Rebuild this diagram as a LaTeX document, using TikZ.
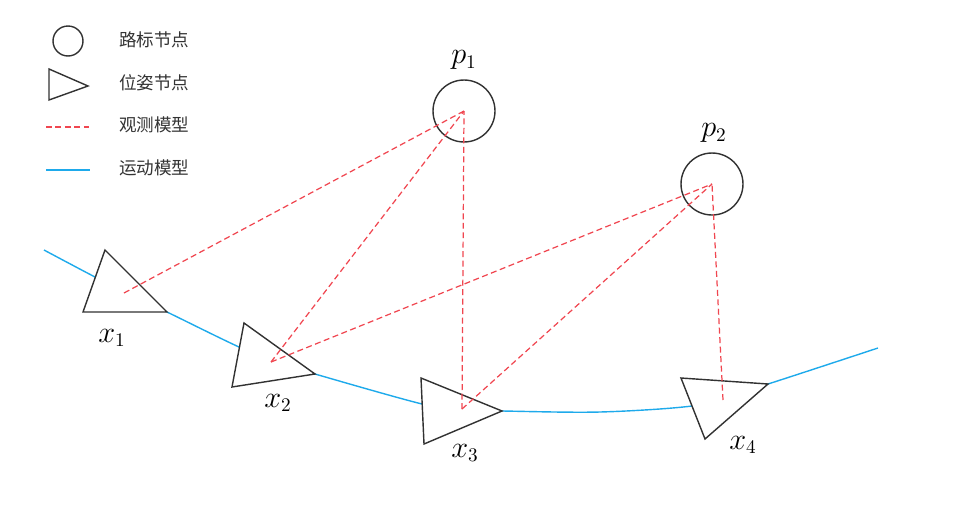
\documentclass[tikz,border=0pt]{standalone}
\usepackage{fontspec}
\newfontfamily\cjk{Noto Sans CJK SC}
\usepackage{xcolor}
\usepackage{tikz}
\usetikzlibrary{arrows.meta, positioning}
\definecolor{obsred}{RGB}{240,70,80}
\definecolor{motblue}{RGB}{30,170,235}
\definecolor{edgegray}{RGB}{50,50,50}

\begin{document}
\begin{tikzpicture}[
  x=0.02cm, y=-0.02cm,
  landmark/.style={circle, draw=edgegray, line width=0.8pt,
                   minimum size=1.24cm, inner sep=0pt},
  pose/.style={draw=edgegray, line width=0.8pt, fill=white},
  obs/.style={draw=obsred, dash pattern=on 3.4pt off 2pt, line width=0.7pt},
  motion/.style={draw=motblue, line width=0.8pt},
  legtext/.style={font=\cjk\fontsize{10pt}{12pt}\selectfont,
                  text=black!80, anchor=west},
  lbl/.style={font=\fontsize{16pt}{18pt}\selectfont}
]
\useasboundingbox (0,0) rectangle (974,514);

%% ── LEGEND ───────────────────────────────────────────────────────────
\node[landmark, minimum size=0.6cm] at (68,41) (leglm) {};
\draw[pose] (49,69) -- (49,100) -- (88,86) -- cycle;
\coordinate (obsa) at (46,127);
\coordinate (obsb) at (89,127);
\draw[obs] (obsa) -- (obsb);
\coordinate (mota) at (46,170);
\coordinate (motb) at (90,170);
\draw[motion] (mota) -- (motb);
\node[legtext] at (113,40)  (t1) {路标节点};
\node[legtext] at (113,83)  (t2) {位姿节点};
\node[legtext] at (113,125) (t3) {观测模型};
\node[legtext] at (113,168) (t4) {运动模型};

%% ── MOTION MODEL (drawn first, poses cover it) ───────────────────────
\draw[motion] plot[smooth, tension=0.55] coordinates {
  (44,250) (95,277) (131,295) (167,312) (239,347) (277,362) (315,374)
  (422,404) (462,410) (502,411) (600,412) (692,406) (730,395) (768,384)
  (878,348)};

%% ── POSE NODES ───────────────────────────────────────────────────────
\draw[pose] (105,250) -- (83,312) -- (167,312) -- cycle;
\draw[pose] (244,323) -- (232,387) -- (315,374) -- cycle;
\draw[pose] (421,378) -- (424,444) -- (502,411) -- cycle;
\draw[pose] (681,378) -- (705,439) -- (768,384) -- cycle;
\coordinate (x1) at (124,293);
\coordinate (x2) at (271,362);
\coordinate (x3) at (462,409);
\coordinate (x4) at (723,400);
\node[lbl] at (112,338) (x1lbl) {$x_1$};
\node[lbl] at (278,403) (x2lbl) {$x_2$};
\node[lbl] at (465,453) (x3lbl) {$x_3$};
\node[lbl] at (743,445) (x4lbl) {$x_4$};

%% ── LANDMARKS ────────────────────────────────────────────────────────
\node[landmark] at (464,111) (p1) {};
\node[landmark] at (712,184) (p2) {};
\node[lbl] at (464,60)  (p1lbl) {$p_1$};
\node[lbl] at (714,133) (p2lbl) {$p_2$};

%% ── OBSERVATION MODEL ────────────────────────────────────────────────
\draw[obs] (x1) -- (p1.center);
\draw[obs] (x2) -- (p1.center);
\draw[obs] (x3) -- (p1.center);
\draw[obs] (x2) -- (p2.center);
\draw[obs] (x3) -- (p2.center);
\draw[obs] (x4) -- (p2.center);

\end{tikzpicture}
\end{document}
